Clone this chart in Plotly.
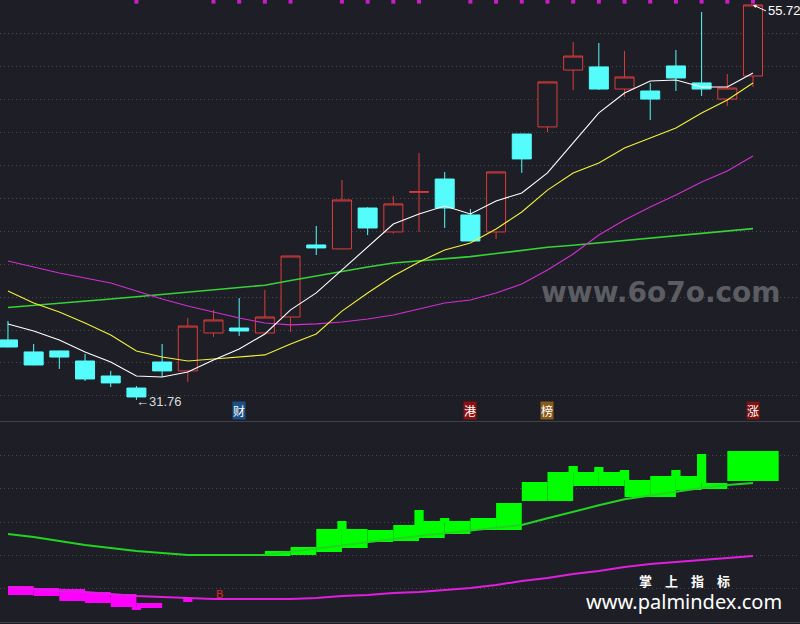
import plotly.graph_objects as go

# ---------------- data ----------------
idx = list(range(1, 31))

opens  = [35.40, 34.67, 34.73, 34.12, 33.21, 32.48, 34.06, 33.52, 35.82, 36.12,
          35.82, 36.79, 41.16, 40.92, 43.40, 41.95, 44.35, 45.16, 42.98, 41.95,
          47.89, 48.32, 51.77, 51.96, 50.62, 50.50, 52.02, 50.99, 50.01, 51.41]
highs  = [36.55, 35.15, 34.75, 34.55, 33.52, 32.60, 35.15, 36.73, 37.22, 37.94,
          38.43, 40.50, 42.31, 45.10, 43.45, 44.13, 46.74, 45.59, 43.34, 45.60,
          47.90, 51.06, 53.47, 53.41, 52.93, 50.99, 52.99, 55.29, 51.53, 55.72]
lows   = [34.95, 33.86, 33.64, 32.91, 32.54, 31.76, 33.15, 32.85, 35.58, 35.64,
          35.80, 35.88, 40.55, 40.90, 41.76, 41.85, 41.95, 42.19, 41.38, 41.52,
          45.53, 48.01, 50.56, 50.56, 50.14, 48.74, 50.50, 50.20, 49.59, 50.74]
closes = [34.97, 33.88, 34.36, 33.03, 32.79, 31.94, 33.52, 36.24, 36.61, 35.94,
          36.79, 40.49, 40.98, 43.89, 42.19, 43.65, 44.40, 43.40, 41.40, 45.59,
          46.38, 51.05, 52.62, 50.62, 51.35, 50.01, 51.29, 50.62, 50.68, 55.72]

ma5  = [36.37, 35.94, 35.40, 34.67, 34.06, 33.21, 33.15, 33.45, 34.18, 34.85,
        35.76, 37.22, 38.25, 39.64, 41.04, 42.43, 43.04, 43.52, 43.04, 43.83,
        44.31, 45.53, 47.35, 49.17, 50.38, 51.11, 51.17, 50.74, 50.74, 51.59]
ma10 = [38.37, 37.64, 37.09, 36.43, 35.70, 34.73, 34.36, 34.12, 34.24, 34.36,
        34.49, 35.15, 35.76, 37.15, 38.25, 39.28, 40.13, 40.85, 41.28, 42.13,
        43.16, 44.49, 45.53, 46.13, 47.04, 47.65, 48.26, 49.17, 49.95, 50.99]
ma20 = [40.19, 39.82, 39.46, 39.16, 38.85, 38.37, 37.88, 37.46, 37.09, 36.73,
        36.43, 36.31, 36.37, 36.49, 36.67, 36.91, 37.28, 37.64, 37.82, 38.25,
        38.79, 39.64, 40.61, 41.76, 42.67, 43.46, 44.19, 44.98, 45.65, 46.56]
ma60 = [37.37, 37.49, 37.60, 37.76, 37.88, 38.02, 38.16, 38.31, 38.45, 38.58,
        38.72, 39.00, 39.28, 39.55, 39.82, 40.07, 40.21, 40.33, 40.45, 40.64,
        40.84, 41.02, 41.14, 41.28, 41.41, 41.55, 41.69, 41.84, 42.00, 42.15]

# signal squares along the top of the price panel (1 = signal)
top_signal = [0, 0, 0, 0, 0, 1, 0, 0, 1, 1, 1, 1, 0, 1, 1, 1, 1, 0, 1, 1,
              1, 1, 1, 1, 1, 1, 1, 1, 1, 1]

# event tags under the candles
event_pos   = [10, 19, 22, 30]
event_text  = ["财", "港", "榜", "涨"]

low_label  = "←31.76"
high_label = "55.72"

# lower indicator panel
ind_green = [26.4, 25.5, 24.3, 23.1, 22.2, 21.3, 20.7, 20.1, 20.1, 20.1,
             20.1, 21.1, 22.1, 23.1, 24.1, 24.9, 25.8, 26.6, 27.4, 28.2,
             29.1, 31.1, 33.1, 35.0, 36.8, 38.0, 39.2, 40.2, 41.1, 41.7]
ind_magenta = [10.5, 9.9, 9.3, 9.0, 8.4, 7.8, 7.5, 7.2, 6.9, 6.9,
               6.9, 6.9, 7.2, 7.8, 8.1, 8.7, 9.0, 9.6, 10.2, 11.1,
               12.3, 13.2, 14.4, 15.3, 16.5, 17.4, 18.0, 18.6, 19.2, 19.8]

N = None
green_lo = [N, N, N, N, N, N, N, N, N, N,
            19.8, 20.1, 21.0, 22.2, 24.0, 24.3, 25.2, 26.4, 27.6, 27.6,
            36.3, 36.3, 40.8, 40.8, 37.5, 37.5, 39.6, 39.9, 42.3, 42.3]
green_hi = [N, N, N, N, N, N, N, N, N, N,
            21.3, 22.5, 27.9, 27.9, 27.6, 29.1, 30.3, 30.3, 31.2, 35.7,
            42.0, 45.0, 45.0, 45.0, 42.6, 43.8, 43.8, 41.7, 51.3, 51.3]
gspike_lo = [N, N, N, N, N, N, N, N, N, N,
             N, N, N, 27.9, N, N, 29.1, 30.0, N, N,
             N, N, 45.0, 45.0, 42.6, N, 43.8, 41.7, N, N]
gspike_hi = [N, N, N, N, N, N, N, N, N, N,
             N, N, N, 30.3, N, N, 33.6, 31.2, N, N,
             N, N, 46.8, 46.5, 45.6, N, 45.6, 50.4, N, N]

mag_lo = [8.1, 7.8, 6.3, 5.7, 4.5, 4.2] + [N] * 24
mag_hi = [10.8, 10.2, 9.9, 9.0, 8.4, 5.7] + [N] * 24
mspike_lo = [N, N, N, N, N, 3.6, N, 6.0] + [N] * 22
mspike_hi = [N, N, N, N, N, 4.5, N, 7.2] + [N] * 22

b_signal = [9]

# ---------------- styling ----------------
BG = "#1e1f26"
GRID = "#474a54"
RED = "#dc3b3b"
CYAN = "#54fcfc"
X_RANGE = [0.69, 31.83]
PRICE_RANGE = [30.48, 56.02]
LOWER_RANGE = [0, 60]
price_grid = list(range(32, 56, 2))
lower_grid = [10, 20, 30, 40, 50]


def diff(hi, lo):
    return [None if (h is None or l is None) else round(h - l, 3) for h, l in zip(hi, lo)]


fig = go.Figure()

fig.add_trace(go.Candlestick(
    x=idx, open=opens, high=highs, low=lows, close=closes,
    increasing=dict(line=dict(color=RED, width=1), fillcolor=BG),
    decreasing=dict(line=dict(color=CYAN, width=1), fillcolor=CYAN),
    whiskerwidth=0, xaxis="x", yaxis="y", hoverinfo="skip"))

for vals, col, w in [(ma60, "#36d236", 1.6), (ma20, "#d22ed2", 1.1),
                     (ma10, "#f2f23a", 1.1), (ma5, "#ffffff", 1.1)]:
    fig.add_trace(go.Scatter(x=idx, y=vals, mode="lines",
                             line=dict(color=col, width=w),
                             xaxis="x", yaxis="y", hoverinfo="skip"))

# top signal squares
sig_x = [i for i, s in zip(idx, top_signal) if s]
sig_y = [PRICE_RANGE[1] - 0.1] * len(sig_x)
fig.add_trace(go.Scatter(x=sig_x, y=sig_y, mode="markers",
                         marker=dict(symbol="square", size=4, color="#c81ec8"),
                         xaxis="x", yaxis="y", hoverinfo="skip"))

# lower panel blocks
fig.add_trace(go.Bar(x=idx, y=diff(mag_hi, mag_lo), base=mag_lo, width=1.0, offset=0,
                     marker=dict(color="#ff00ff", line=dict(width=0)),
                     xaxis="x2", yaxis="y2", hoverinfo="skip"))
fig.add_trace(go.Bar(x=idx, y=diff(mspike_hi, mspike_lo), base=mspike_lo, width=0.36,
                     marker=dict(color="#ff00ff", line=dict(width=0)),
                     xaxis="x2", yaxis="y2", hoverinfo="skip"))
fig.add_trace(go.Bar(x=idx, y=diff(green_hi, green_lo), base=green_lo, width=1.0, offset=0,
                     marker=dict(color="#00ff00", line=dict(width=0)),
                     xaxis="x2", yaxis="y2", hoverinfo="skip"))
fig.add_trace(go.Bar(x=idx, y=diff(gspike_hi, gspike_lo), base=gspike_lo, width=0.36,
                     marker=dict(color="#00ff00", line=dict(width=0)),
                     xaxis="x2", yaxis="y2", hoverinfo="skip"))

fig.add_trace(go.Scatter(x=idx, y=ind_green, mode="lines",
                         line=dict(color="#22d422", width=2),
                         xaxis="x2", yaxis="y2", hoverinfo="skip"))
fig.add_trace(go.Scatter(x=idx, y=ind_magenta, mode="lines",
                         line=dict(color="#e01ee0", width=2),
                         xaxis="x2", yaxis="y2", hoverinfo="skip"))

annotations = []
# low / high labels
lo_i = lows.index(min(lows))
annotations.append(dict(x=idx[lo_i], y=lows[lo_i], xref="x", yref="y", text=low_label,
                        showarrow=False, xanchor="left", yanchor="middle", xshift=-2, yshift=-2,
                        font=dict(color="#dcdcdc", size=13, family="Liberation Sans")))
hi_i = highs.index(max(highs))
annotations.append(dict(x=idx[hi_i], y=highs[hi_i], xref="x", yref="y", text=high_label,
                        showarrow=True, arrowhead=2, arrowsize=0.7, arrowwidth=1,
                        arrowcolor="#ffffff", ax=13, ay=6, xanchor="left", yanchor="middle",
                        font=dict(color="#ffffff", size=13, family="Liberation Sans")))

ev_colors = {"财": "#1d4f85", "港": "#8c1010", "榜": "#8a5a1c", "涨": "#7c1212"}
for p, t in zip(event_pos, event_text):
    annotations.append(dict(x=p, y=0.3253, xref="x", yref="paper", text=t, showarrow=False,
                            xanchor="center", yanchor="bottom", yshift=1,
                            bgcolor=ev_colors[t], borderpad=0,
                            font=dict(color="#ffffff", size=12, family="Noto Sans CJK SC")))

for b in b_signal:
    annotations.append(dict(x=b, y=ind_magenta[b - 1], xref="x2", yref="y2", text="B",
                            showarrow=False, xanchor="center", yanchor="middle", xshift=6, yshift=5,
                            font=dict(color="#e02828", size=11, family="Liberation Sans")))

annotations.append(dict(x=0.826, y=0.532, xref="paper", yref="paper", text="<b>www.6o7o.com</b>",
                        showarrow=False, xanchor="center", yanchor="middle",
                        font=dict(color="#5c5d63", size=28, family="DejaVu Sans")))
annotations.append(dict(x=0.856, y=0.070, xref="paper", yref="paper",
                        text="<b>掌\u3000上\u3000指\u3000标</b>", showarrow=False,
                        xanchor="center", yanchor="middle",
                        font=dict(color="#ffffff", size=13, family="Noto Sans CJK SC")))
annotations.append(dict(x=0.855, y=0.036, xref="paper", yref="paper", text="www.palmindex.com",
                        showarrow=False, xanchor="center", yanchor="middle",
                        font=dict(color="#ffffff", size=20, family="Noto Sans")))

fig.update_layout(
    width=800, height=624, margin=dict(l=0, r=0, t=0, b=0),
    paper_bgcolor=BG, plot_bgcolor=BG, showlegend=False,
    barmode="overlay", boxgap=0.26, boxgroupgap=0,
    xaxis=dict(domain=[0, 1], range=X_RANGE, anchor="y", showticklabels=False, showgrid=False,
               zeroline=False, showline=True, linecolor="#40424b", linewidth=1,
               rangeslider=dict(visible=False), fixedrange=True),
    yaxis=dict(domain=[0.3253, 1], range=PRICE_RANGE, tickvals=price_grid, showticklabels=False,
               showgrid=True, gridcolor=GRID, griddash="1px,3px", gridwidth=1, zeroline=False),
    xaxis2=dict(domain=[0, 1], range=X_RANGE, anchor="y2", showticklabels=False, showgrid=False,
                zeroline=False, showline=True, linecolor="#40424b", linewidth=1),
    yaxis2=dict(domain=[0.0032, 0.3237], range=LOWER_RANGE, tickvals=lower_grid,
                showticklabels=False, showgrid=True, gridcolor=GRID, griddash="1px,3px",
                gridwidth=1, zeroline=False),
    annotations=annotations,
)

fig.write_html("out.html", config={"displayModeBar": False},
               post_script="document.body.style.margin='0';document.body.style.background='%s';" % BG)
